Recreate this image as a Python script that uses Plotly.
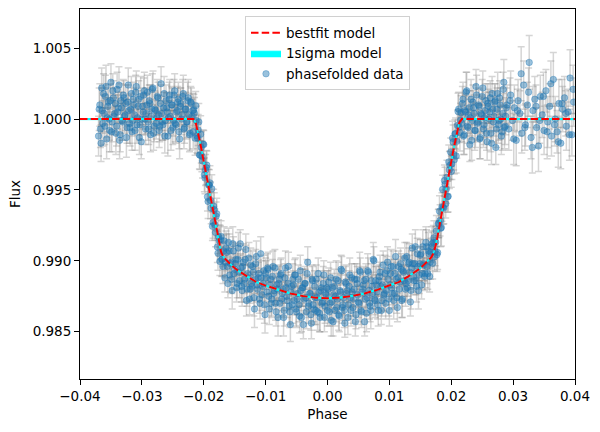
import plotly.graph_objects as go

# ---------------- data (read / estimated from the reference) ----------------
phase = [
    -0.0370, -0.0368, -0.0366, -0.0364, -0.0362, -0.0360, -0.0358, -0.0356, -0.0354, -0.0352,
    -0.0350, -0.0348, -0.0346, -0.0344, -0.0342, -0.0340, -0.0338, -0.0336, -0.0334, -0.0332,
    -0.0330, -0.0328, -0.0326, -0.0324, -0.0322, -0.0320, -0.0318, -0.0316, -0.0314, -0.0312,
    -0.0310, -0.0308, -0.0306, -0.0304, -0.0302, -0.0300, -0.0298, -0.0296, -0.0294, -0.0292,
    -0.0290, -0.0288, -0.0286, -0.0284, -0.0282, -0.0280, -0.0278, -0.0276, -0.0274, -0.0272,
    -0.0270, -0.0268, -0.0266, -0.0264, -0.0262, -0.0260, -0.0258, -0.0256, -0.0254, -0.0252,
    -0.0250, -0.0248, -0.0246, -0.0244, -0.0242, -0.0240, -0.0238, -0.0236, -0.0234, -0.0232,
    -0.0230, -0.0228, -0.0226, -0.0224, -0.0222, -0.0220, -0.0218,
    -0.0216, -0.0214, -0.0212, -0.0210, -0.0208, -0.0206, -0.0204, -0.0202, -0.0200, -0.0198,
    -0.0196, -0.0194, -0.0192, -0.0190, -0.0188, -0.0186, -0.0184, -0.0182, -0.0180, -0.0178,
    -0.0176, -0.0174, -0.0172, -0.0170,
    -0.0168, -0.0166, -0.0164, -0.0162, -0.0160, -0.0158, -0.0156, -0.0154, -0.0152, -0.0150,
    -0.0148, -0.0146, -0.0144, -0.0142, -0.0140, -0.0138, -0.0136, -0.0134, -0.0132, -0.0130,
    -0.0128, -0.0126, -0.0124, -0.0122, -0.0120, -0.0118, -0.0116, -0.0114, -0.0112, -0.0110,
    -0.0108, -0.0106, -0.0104, -0.0102, -0.0100, -0.0098, -0.0096, -0.0094, -0.0092, -0.0090,
    -0.0088, -0.0086, -0.0084, -0.0082, -0.0080, -0.0078, -0.0076, -0.0074, -0.0072, -0.0070,
    -0.0068, -0.0066, -0.0064, -0.0062, -0.0060, -0.0058, -0.0056, -0.0054, -0.0052, -0.0050,
    -0.0048, -0.0046, -0.0044, -0.0042, -0.0040, -0.0038, -0.0036, -0.0034, -0.0032, -0.0030,
    -0.0028, -0.0026, -0.0024, -0.0022, -0.0020, -0.0018, -0.0016, -0.0014, -0.0012, -0.0010,
    -0.0008, -0.0006, -0.0004, -0.0002,
    0.0000,
    0.0002, 0.0004, 0.0006, 0.0008, 0.0010, 0.0012, 0.0014, 0.0016, 0.0018, 0.0020,
    0.0022, 0.0024, 0.0026, 0.0028, 0.0030, 0.0032, 0.0034, 0.0036, 0.0038, 0.0040,
    0.0042, 0.0044, 0.0046, 0.0048, 0.0050, 0.0052, 0.0054, 0.0056, 0.0058, 0.0060,
    0.0062, 0.0064, 0.0066, 0.0068, 0.0070, 0.0072, 0.0074, 0.0076, 0.0078, 0.0080,
    0.0082, 0.0084, 0.0086, 0.0088, 0.0090, 0.0092, 0.0094, 0.0096, 0.0098, 0.0100,
    0.0102, 0.0104, 0.0106, 0.0108, 0.0110, 0.0112, 0.0114, 0.0116, 0.0118, 0.0120,
    0.0122, 0.0124, 0.0126, 0.0128, 0.0130, 0.0132, 0.0134, 0.0136, 0.0138, 0.0140,
    0.0142, 0.0144, 0.0146, 0.0148, 0.0150, 0.0152, 0.0154, 0.0156, 0.0158, 0.0160,
    0.0162, 0.0164, 0.0166, 0.0168,
    0.0170, 0.0172, 0.0174, 0.0176, 0.0178, 0.0180, 0.0182, 0.0184, 0.0186, 0.0188,
    0.0190, 0.0192, 0.0194, 0.0196, 0.0198, 0.0200, 0.0202, 0.0204, 0.0206, 0.0208,
    0.0210, 0.0212, 0.0214, 0.0216,
    0.0218, 0.0220, 0.0222, 0.0224, 0.0226, 0.0228, 0.0230, 0.0232, 0.0234, 0.0236,
    0.0238, 0.0240, 0.0242, 0.0244, 0.0246, 0.0248, 0.0250, 0.0252, 0.0254, 0.0256,
    0.0258, 0.0260, 0.0262, 0.0264, 0.0266, 0.0268, 0.0270, 0.0272, 0.0274, 0.0276,
    0.0278, 0.0280, 0.0282, 0.0284, 0.0286, 0.0288, 0.0290,
    0.0293, 0.0296, 0.0299, 0.0302, 0.0305, 0.0308, 0.0311, 0.0314, 0.0317, 0.0320,
    0.0323, 0.0326, 0.0329, 0.0332, 0.0335, 0.0338, 0.0341, 0.0344, 0.0347, 0.0350,
    0.0353, 0.0356, 0.0359, 0.0362, 0.0365, 0.0368, 0.0371, 0.0374, 0.0377, 0.0380,
    0.0383, 0.0386, 0.0389, 0.0392, 0.0395, 0.0398,
]

flux = [
    0.99880, 1.00100, 0.99830, 1.00060, 1.00180, 0.99950, 1.00230, 1.00010, 1.00120, 0.99920,
    1.00260, 0.99980, 1.00150, 1.00040, 0.99900, 1.00210, 1.00080, 0.99850, 1.00130, 0.99990,
    1.00170, 1.00020, 1.00110, 0.99940, 1.00240, 0.99970, 1.00070, 0.99910, 1.00140, 1.00030,
    1.00190, 0.99960, 1.00090, 0.99870, 1.00160, 1.00000, 1.00050, 1.00200, 0.99930, 1.00100,
    0.99980, 1.00130, 0.99890, 1.00070, 1.00220, 0.99950, 1.00060, 1.00010, 1.00150, 0.99920,
    1.00110, 1.00040, 0.99960, 1.00180, 0.99990, 1.00080, 0.99880, 1.00140, 1.00020, 1.00100,
    0.99940, 1.00170, 0.99970, 1.00050, 1.00120, 0.99910, 1.00090, 1.00000, 1.00160, 0.99930,
    1.00070, 0.99980, 1.00130, 1.00030, 0.99900, 1.00110, 1.00060,
    1.00065, 0.99865, 0.99990, 0.99865, 0.99980, 0.99745, 0.99800, 0.99705, 0.99820, 0.99584,
    0.99658, 0.99452, 0.99536, 0.99550, 0.99372, 0.99244, 0.99385, 0.99255, 0.99315, 0.99098,
    0.99170, 0.98996, 0.99172, 0.99012,
    0.99070, 0.98880, 0.99090, 0.98960, 0.99130, 0.98900, 0.98990, 0.98790, 0.99070, 0.98940,
    0.99010, 0.98840, 0.99090, 0.98860, 0.98950, 0.98790, 0.98990, 0.98870, 0.99080, 0.98800,
    0.98880, 0.98730, 0.98970, 0.98820, 0.98920, 0.98660, 0.98980, 0.98830, 0.98880, 0.98730,
    0.99050, 0.98760, 0.98840, 0.98690, 0.98910, 0.98780, 0.98940, 0.98660, 0.98870, 0.98730,
    0.98960, 0.98790, 0.98700, 0.98830, 0.98600, 0.98870, 0.98900, 0.98730, 0.98800, 0.98650,
    0.98950, 0.98750, 0.98840, 0.98680, 0.98550, 0.98820, 0.98870, 0.98720, 0.98900, 0.98640,
    0.98770, 0.98690, 0.98930, 0.98600, 0.98810, 0.98730, 0.98840, 0.98640, 0.98990, 0.98700,
    0.98770, 0.98560, 0.98860, 0.98660, 0.98740, 0.98870, 0.98640, 0.98780, 0.98600, 0.98810,
    0.98710, 0.98900, 0.98680, 0.98760,
    0.98650,
    0.98850, 0.98700, 0.98580, 0.98810, 0.98760, 0.98650, 0.98870, 0.98730, 0.98620, 0.98790,
    0.98940, 0.98670, 0.98740, 0.98560, 0.98840, 0.98790, 0.98690, 0.98900, 0.98650, 0.98780,
    0.98730, 0.98870, 0.98620, 0.98840, 0.98710, 0.98930, 0.98650, 0.98780, 0.98830, 0.98570,
    0.98870, 0.98740, 0.98920, 0.98700, 0.98650, 0.98820, 0.99010, 0.98730, 0.98860, 0.98780,
    0.98650, 0.98890, 0.98820, 0.98720, 0.98970, 0.98770, 0.98700, 0.98930, 0.98870, 0.98650,
    0.98910, 0.98810, 0.98960, 0.98770, 0.99030, 0.98740, 0.98880, 0.98800, 0.98980, 0.98720,
    0.98930, 0.98860, 0.98800, 0.99030, 0.98860, 0.98990, 0.98710, 0.98950, 0.98980, 0.98860,
    0.99100, 0.98820, 0.98960, 0.98900, 0.99040, 0.98830, 0.99100, 0.98970, 0.98910, 0.99100,
    0.98910, 0.99050, 0.98990, 0.99100,
    0.98982, 0.99162, 0.99066, 0.99210, 0.99058, 0.99265, 0.99285, 0.99235, 0.99504, 0.99372,
    0.99540, 0.99506, 0.99452, 0.99698, 0.99674, 0.99630, 0.99865, 0.99750, 0.99895, 0.99740,
    0.99955, 1.00070, 0.99905, 1.00045,
    1.00110, 0.99880, 1.00060, 1.00190, 0.99950, 1.00030, 0.99820, 1.00140, 0.99990, 1.00080,
    0.99920, 1.00230, 0.99970, 1.00100, 0.99860, 1.00040, 1.00160, 0.99930, 1.00010, 1.00130,
    0.99840, 1.00090, 1.00050, 0.99900, 1.00180, 0.99980, 1.00120, 0.99800, 1.00070, 0.99960,
    1.00150, 1.00000, 0.99910, 1.00210, 0.99940, 1.00020, 1.00100,
    0.99930, 1.00170, 0.99990, 1.00080, 0.99850, 1.00130, 1.00040, 0.99900, 1.00240, 0.99960,
    1.00100, 1.00400, 0.99870, 1.00060, 1.00140, 0.99940, 0.99810, 1.00160, 1.00030, 0.99920,
    1.00200, 0.99980, 1.00090, 0.99880, 1.00280, 1.00000, 0.99910, 1.00110, 0.99830, 1.00070,
    1.00150, 0.99950, 1.00050, 1.00290, 0.99890, 1.00120,
]

flux_err = [
    0.0014, 0.0015, 0.0013, 0.0016, 0.0014, 0.0013, 0.0015, 0.0014, 0.0012, 0.0015,
    0.0013, 0.0014, 0.0012, 0.0013, 0.0015, 0.0012, 0.0011, 0.0013, 0.0012, 0.0014,
    0.0011, 0.0012, 0.0013, 0.0011, 0.0012, 0.0014, 0.0011, 0.0013, 0.0012, 0.0011,
    0.0012, 0.0013, 0.0011, 0.0012, 0.0014, 0.0011, 0.0012, 0.0013, 0.0011, 0.0012,
    0.0013, 0.0011, 0.0012, 0.0014, 0.0012, 0.0011, 0.0013, 0.0012, 0.0011, 0.0012,
    0.0013, 0.0012, 0.0011, 0.0012, 0.0013, 0.0011, 0.0014, 0.0012, 0.0011, 0.0013,
    0.0012, 0.0011, 0.0013, 0.0012, 0.0011, 0.0012, 0.0013, 0.0011, 0.0012, 0.0014,
    0.0011, 0.0012, 0.0013, 0.0011, 0.0012, 0.0011, 0.0012,
    0.0011, 0.0012, 0.0010, 0.0011, 0.0013, 0.0010, 0.0011, 0.0012, 0.0010, 0.0011,
    0.0012, 0.0010, 0.0011, 0.0012, 0.0011, 0.0010, 0.0012, 0.0011, 0.0010, 0.0011,
    0.0012, 0.0010, 0.0011, 0.0012,
    0.0011, 0.0010, 0.0012, 0.0011, 0.0010, 0.0012, 0.0011, 0.0013, 0.0010, 0.0011,
    0.0012, 0.0010, 0.0011, 0.0012, 0.0010, 0.0011, 0.0013, 0.0010, 0.0011, 0.0012,
    0.0010, 0.0011, 0.0012, 0.0010, 0.0011, 0.0013, 0.0010, 0.0012, 0.0011, 0.0010,
    0.0012, 0.0011, 0.0010, 0.0013, 0.0011, 0.0010, 0.0012, 0.0011, 0.0010, 0.0012,
    0.0011, 0.0010, 0.0012, 0.0011, 0.0013, 0.0010, 0.0011, 0.0012, 0.0010, 0.0011,
    0.0012, 0.0010, 0.0011, 0.0013, 0.0012, 0.0010, 0.0011, 0.0010, 0.0012, 0.0011,
    0.0010, 0.0012, 0.0011, 0.0010, 0.0013, 0.0011, 0.0010, 0.0012, 0.0011, 0.0010,
    0.0012, 0.0011, 0.0010, 0.0011, 0.0012, 0.0010, 0.0013, 0.0011, 0.0010, 0.0012,
    0.0011, 0.0010, 0.0012, 0.0011,
    0.0011,
    0.0010, 0.0012, 0.0011, 0.0010, 0.0012, 0.0011, 0.0013, 0.0010, 0.0011, 0.0012,
    0.0010, 0.0011, 0.0012, 0.0010, 0.0013, 0.0011, 0.0010, 0.0012, 0.0011, 0.0010,
    0.0012, 0.0011, 0.0010, 0.0012, 0.0011, 0.0013, 0.0010, 0.0011, 0.0012, 0.0010,
    0.0011, 0.0012, 0.0010, 0.0011, 0.0013, 0.0010, 0.0012, 0.0011, 0.0010, 0.0012,
    0.0011, 0.0010, 0.0012, 0.0011, 0.0010, 0.0013, 0.0011, 0.0010, 0.0012, 0.0011,
    0.0010, 0.0012, 0.0011, 0.0010, 0.0012, 0.0011, 0.0013, 0.0010, 0.0011, 0.0012,
    0.0010, 0.0011, 0.0012, 0.0010, 0.0011, 0.0013, 0.0010, 0.0012, 0.0011, 0.0010,
    0.0012, 0.0011, 0.0010, 0.0013, 0.0011, 0.0010, 0.0012, 0.0011, 0.0010, 0.0012,
    0.0011, 0.0010, 0.0012, 0.0011,
    0.0011, 0.0012, 0.0010, 0.0011, 0.0012, 0.0010, 0.0011, 0.0013, 0.0010, 0.0011,
    0.0012, 0.0010, 0.0011, 0.0012, 0.0010, 0.0011, 0.0012, 0.0011, 0.0010, 0.0012,
    0.0011, 0.0012, 0.0013, 0.0012,
    0.0012, 0.0013, 0.0012, 0.0014, 0.0012, 0.0013, 0.0012, 0.0014, 0.0013, 0.0012,
    0.0014, 0.0012, 0.0013, 0.0012, 0.0014, 0.0013, 0.0012, 0.0013, 0.0014, 0.0012,
    0.0013, 0.0012, 0.0014, 0.0013, 0.0012, 0.0014, 0.0013, 0.0012, 0.0015, 0.0013,
    0.0012, 0.0014, 0.0013, 0.0012, 0.0015, 0.0013, 0.0014,
    0.0015, 0.0017, 0.0014, 0.0016, 0.0018, 0.0015, 0.0016, 0.0014, 0.0017, 0.0015,
    0.0016, 0.0019, 0.0015, 0.0017, 0.0016, 0.0014, 0.0018, 0.0015, 0.0016, 0.0017,
    0.0015, 0.0018, 0.0016, 0.0014, 0.0019, 0.0016, 0.0015, 0.0017, 0.0018, 0.0016,
    0.0015, 0.0017, 0.0016, 0.0020, 0.0015, 0.0017,
]

# second interleaved set of folded points
phase_2 = [
    -0.0369, -0.0367, -0.0365, -0.0363, -0.0361, -0.0359, -0.0357, -0.0355, -0.0353, -0.0351,
    -0.0349, -0.0347, -0.0345, -0.0343, -0.0341, -0.0339, -0.0337, -0.0335, -0.0333, -0.0331,
    -0.0329, -0.0327, -0.0325, -0.0323, -0.0321, -0.0319, -0.0317, -0.0315, -0.0313, -0.0311,
    -0.0309, -0.0307, -0.0305, -0.0303, -0.0301, -0.0299, -0.0297, -0.0295, -0.0293, -0.0291,
    -0.0289, -0.0287, -0.0285, -0.0283, -0.0281, -0.0279, -0.0277, -0.0275, -0.0273, -0.0271,
    -0.0269, -0.0267, -0.0265, -0.0263, -0.0261, -0.0259, -0.0257, -0.0255, -0.0253, -0.0251,
    -0.0249, -0.0247, -0.0245, -0.0243, -0.0241, -0.0239, -0.0237, -0.0235, -0.0233, -0.0231,
    -0.0229, -0.0227, -0.0225, -0.0223, -0.0221, -0.0219,
    -0.0217, -0.0215, -0.0213, -0.0211, -0.0209, -0.0207, -0.0205, -0.0203, -0.0201, -0.0199,
    -0.0197, -0.0195, -0.0193, -0.0191, -0.0189, -0.0187, -0.0185, -0.0183, -0.0181, -0.0179,
    -0.0177, -0.0175, -0.0173, -0.0171,
    -0.0169, -0.0167, -0.0165, -0.0163, -0.0161, -0.0159, -0.0157, -0.0155, -0.0153, -0.0151,
    -0.0149, -0.0147, -0.0145, -0.0143, -0.0141, -0.0139, -0.0137, -0.0135, -0.0133, -0.0131,
    -0.0129, -0.0127, -0.0125, -0.0123, -0.0121, -0.0119, -0.0117, -0.0115, -0.0113, -0.0111,
    -0.0109, -0.0107, -0.0105, -0.0103, -0.0101, -0.0099, -0.0097, -0.0095, -0.0093, -0.0091,
    -0.0089, -0.0087, -0.0085, -0.0083, -0.0081, -0.0079, -0.0077, -0.0075, -0.0073, -0.0071,
    -0.0069, -0.0067, -0.0065, -0.0063, -0.0061, -0.0059, -0.0057, -0.0055, -0.0053, -0.0051,
    -0.0049, -0.0047, -0.0045, -0.0043, -0.0041, -0.0039, -0.0037, -0.0035, -0.0033, -0.0031,
    -0.0029, -0.0027, -0.0025, -0.0023, -0.0021, -0.0019, -0.0017, -0.0015, -0.0013, -0.0011,
    -0.0009, -0.0007, -0.0005, -0.0003, -0.0001,
    0.0001, 0.0003, 0.0005, 0.0007, 0.0009, 0.0011, 0.0013, 0.0015, 0.0017, 0.0019,
    0.0021, 0.0023, 0.0025, 0.0027, 0.0029, 0.0031, 0.0033, 0.0035, 0.0037, 0.0039,
    0.0041, 0.0043, 0.0045, 0.0047, 0.0049, 0.0051, 0.0053, 0.0055, 0.0057, 0.0059,
    0.0061, 0.0063, 0.0065, 0.0067, 0.0069, 0.0071, 0.0073, 0.0075, 0.0077, 0.0079,
    0.0081, 0.0083, 0.0085, 0.0087, 0.0089, 0.0091, 0.0093, 0.0095, 0.0097, 0.0099,
    0.0101, 0.0103, 0.0105, 0.0107, 0.0109, 0.0111, 0.0113, 0.0115, 0.0117, 0.0119,
    0.0121, 0.0123, 0.0125, 0.0127, 0.0129, 0.0131, 0.0133, 0.0135, 0.0137, 0.0139,
    0.0141, 0.0143, 0.0145, 0.0147, 0.0149, 0.0151, 0.0153, 0.0155, 0.0157, 0.0159,
    0.0161, 0.0163, 0.0165, 0.0167, 0.0169,
    0.0171, 0.0173, 0.0175, 0.0177, 0.0179, 0.0181, 0.0183, 0.0185, 0.0187, 0.0189,
    0.0191, 0.0193, 0.0195, 0.0197, 0.0199, 0.0201, 0.0203, 0.0205, 0.0207, 0.0209,
    0.0211, 0.0213, 0.0215,
    0.0217, 0.0219, 0.0221, 0.0223, 0.0225, 0.0227, 0.0229, 0.0231, 0.0233, 0.0235,
    0.0237, 0.0239, 0.0241, 0.0243, 0.0245, 0.0247, 0.0249, 0.0251, 0.0253, 0.0255,
    0.0257, 0.0259, 0.0261, 0.0263, 0.0265, 0.0267, 0.0269, 0.0271, 0.0273, 0.0275,
    0.0277, 0.0279, 0.0281, 0.0283, 0.0285, 0.0287, 0.0289,
    0.0295, 0.0301, 0.0307, 0.0313, 0.0319, 0.0325, 0.0331, 0.0337, 0.0343, 0.0349,
    0.0355, 0.0361, 0.0367, 0.0373, 0.0379, 0.0385, 0.0391, 0.0397,
]

flux_2 = [
    1.00070, 0.99930, 1.00220, 0.99970, 1.00040, 1.00160, 0.99860, 1.00090, 1.00000, 1.00130,
    0.99910, 1.00200, 1.00020, 1.00110, 0.99950, 1.00050, 1.00240, 0.99890, 1.00080, 0.99980,
    1.00150, 1.00030, 0.99870, 1.00120, 1.00060, 0.99940, 1.00180, 0.99990, 1.00100, 0.99920,
    1.00230, 1.00010, 1.00140, 0.99960, 0.99840, 1.00090, 1.00170, 1.00000, 1.00040, 1.00190,
    0.99930, 1.00110, 1.00020, 1.00210, 0.99900, 1.00070, 0.99970, 1.00160, 1.00030, 0.99950,
    1.00250, 0.99980, 1.00080, 0.99880, 1.00130, 1.00050, 1.00010, 1.00170, 0.99920, 1.00100,
    0.99990, 1.00200, 0.99960, 1.00060, 1.00140, 0.99860, 1.00110, 1.00030, 1.00180, 0.99940,
    1.00070, 0.99980, 1.00150, 0.99890, 1.00120, 1.00020,
    0.99910, 1.00042, 1.00095, 0.99883, 0.99923, 0.99748, 0.99893, 0.99738, 0.99823, 0.99607,
    0.99641, 0.99675, 0.99419, 0.99533, 0.99426, 0.99508, 0.99270, 0.99360, 0.99200, 0.99332,
    0.99054, 0.99143, 0.99149, 0.99010,
    0.98960, 0.99140, 0.98990, 0.99060, 0.98840, 0.99070, 0.98980, 0.98870, 0.99120, 0.98910,
    0.98980, 0.98810, 0.99010, 0.98920, 0.99120, 0.98820, 0.98960, 0.98840, 0.99010, 0.98720,
    0.98910, 0.99020, 0.98800, 0.98840, 0.98960, 0.98740, 0.98870, 0.99030, 0.98800, 0.98910,
    0.98700, 0.98880, 0.98820, 0.98930, 0.98620, 0.98880, 0.98950, 0.98750, 0.98830, 0.98700,
    0.98890, 0.98770, 0.98950, 0.98640, 0.98800, 0.98840, 0.98700, 0.98910, 0.98770, 0.98600,
    0.98880, 0.98810, 0.98720, 0.98960, 0.98640, 0.98780, 0.98690, 0.98830, 0.98900, 0.98660,
    0.98730, 0.98870, 0.98610, 0.98790, 0.98810, 0.98550, 0.98840, 0.98740, 0.98910, 0.98680,
    0.98770, 0.98620, 0.98870, 0.98690, 0.98820, 0.98650, 0.98740, 0.98910, 0.98630, 0.98790,
    0.98700, 0.98840, 0.98600, 0.98770, 0.98810,
    0.98800, 0.98640, 0.98880, 0.98710, 0.98570, 0.98820, 0.98750, 0.98670, 0.98860, 0.98610,
    0.98780, 0.98930, 0.98690, 0.98650, 0.98850, 0.98770, 0.98600, 0.98820, 0.98740, 0.98880,
    0.98670, 0.98800, 0.98570, 0.98870, 0.98760, 0.98700, 0.98920, 0.98640, 0.98800, 0.98860,
    0.98730, 0.98630, 0.98930, 0.98790, 0.98680, 0.98860, 0.98770, 0.99000, 0.98720, 0.98830,
    0.98690, 0.98860, 0.98920, 0.98650, 0.98830, 0.98760, 0.98910, 0.98790, 0.98990, 0.98730,
    0.98830, 0.98960, 0.98770, 0.98720, 0.98910, 0.98870, 0.98670, 0.98960, 0.98850, 0.98940,
    0.98730, 0.98920, 0.99020, 0.98840, 0.98810, 0.98980, 0.98920, 0.98790, 0.99090, 0.98890,
    0.98980, 0.98860, 0.99050, 0.98790, 0.98980, 0.99050, 0.98910, 0.98980, 0.98890, 0.99130,
    0.98960, 0.99070, 0.98890, 0.99060, 0.99120,
    0.99130, 0.99029, 0.99133, 0.99044, 0.99262, 0.99350, 0.99230, 0.99380, 0.99378, 0.99566,
    0.99403, 0.99589, 0.99455, 0.99641, 0.99767, 0.99683, 0.99838, 0.99713, 0.99898, 0.99843,
    1.00053, 0.99945, 0.99992,
    0.99970, 1.00140, 0.99890, 1.00050, 1.00200, 0.99940, 1.00080, 1.00010, 0.99850, 1.00120,
    1.00040, 0.99920, 1.00170, 0.99980, 1.00090, 0.99870, 1.00030, 1.00220, 0.99960, 1.00060,
    0.99900, 1.00110, 1.00000, 1.00150, 0.99830, 1.00070, 1.00020, 1.00130, 0.99930, 1.00180,
    0.99990, 1.00100, 0.99880, 1.00040, 1.00260, 0.99950, 1.00080,
    1.00130, 0.99860, 1.00060, 1.00320, 0.99940, 1.00190, 0.99800, 1.00090, 0.99990, 1.00160,
    0.99910, 1.00250, 0.99960, 0.99840, 1.00110, 1.00040, 0.99890, 1.00210,
]

flux_err_2 = [
    0.0015, 0.0013, 0.0014, 0.0016, 0.0013, 0.0015, 0.0014, 0.0013, 0.0015, 0.0012,
    0.0014, 0.0012, 0.0013, 0.0011, 0.0014, 0.0012, 0.0013, 0.0012, 0.0011, 0.0013,
    0.0012, 0.0011, 0.0014, 0.0012, 0.0011, 0.0013, 0.0012, 0.0011, 0.0012, 0.0014,
    0.0011, 0.0012, 0.0013, 0.0011, 0.0012, 0.0013, 0.0012, 0.0011, 0.0014, 0.0012,
    0.0011, 0.0013, 0.0012, 0.0011, 0.0012, 0.0013, 0.0011, 0.0012, 0.0014, 0.0011,
    0.0012, 0.0013, 0.0011, 0.0012, 0.0011, 0.0013, 0.0012, 0.0011, 0.0014, 0.0012,
    0.0011, 0.0012, 0.0013, 0.0011, 0.0012, 0.0014, 0.0011, 0.0012, 0.0013, 0.0011,
    0.0012, 0.0011, 0.0013, 0.0012, 0.0011, 0.0012,
    0.0012, 0.0011, 0.0010, 0.0012, 0.0011, 0.0010, 0.0013, 0.0011, 0.0010, 0.0012,
    0.0011, 0.0010, 0.0012, 0.0011, 0.0013, 0.0010, 0.0011, 0.0012, 0.0010, 0.0011,
    0.0012, 0.0011, 0.0010, 0.0012,
    0.0012, 0.0010, 0.0011, 0.0013, 0.0010, 0.0012, 0.0011, 0.0010, 0.0012, 0.0011,
    0.0013, 0.0010, 0.0011, 0.0012, 0.0010, 0.0011, 0.0012, 0.0013, 0.0010, 0.0011,
    0.0012, 0.0011, 0.0010, 0.0012, 0.0011, 0.0013, 0.0010, 0.0011, 0.0012, 0.0010,
    0.0011, 0.0012, 0.0010, 0.0011, 0.0013, 0.0012, 0.0010, 0.0011, 0.0012, 0.0010,
    0.0012, 0.0011, 0.0013, 0.0010, 0.0011, 0.0012, 0.0010, 0.0011, 0.0012, 0.0013,
    0.0010, 0.0011, 0.0012, 0.0010, 0.0011, 0.0012, 0.0013, 0.0010, 0.0011, 0.0012,
    0.0011, 0.0010, 0.0012, 0.0011, 0.0013, 0.0010, 0.0012, 0.0011, 0.0010, 0.0012,
    0.0013, 0.0011, 0.0010, 0.0012, 0.0011, 0.0010, 0.0012, 0.0011, 0.0013, 0.0010,
    0.0011, 0.0012, 0.0010, 0.0011, 0.0012, 0.0013, 0.0010, 0.0011, 0.0012, 0.0010,
    0.0012, 0.0011, 0.0010, 0.0013, 0.0011, 0.0012, 0.0010, 0.0011, 0.0012, 0.0011,
    0.0010, 0.0012, 0.0011, 0.0013, 0.0010, 0.0011, 0.0012, 0.0010, 0.0011, 0.0012,
    0.0013, 0.0010, 0.0011, 0.0012, 0.0010, 0.0011, 0.0013, 0.0012, 0.0010, 0.0011,
    0.0012, 0.0011, 0.0010, 0.0012, 0.0013, 0.0010, 0.0011, 0.0012, 0.0010, 0.0011,
    0.0011, 0.0013, 0.0010, 0.0011, 0.0012, 0.0010, 0.0012, 0.0011, 0.0013, 0.0010,
    0.0012, 0.0010, 0.0011, 0.0012, 0.0011, 0.0013, 0.0010, 0.0011, 0.0012, 0.0010,
    0.0011, 0.0012, 0.0013, 0.0010, 0.0011, 0.0012, 0.0010, 0.0011, 0.0013, 0.0012,
    0.0010, 0.0011, 0.0012, 0.0010, 0.0011, 0.0012, 0.0013, 0.0011, 0.0010, 0.0012,
    0.0012, 0.0010, 0.0011, 0.0012, 0.0010, 0.0011, 0.0013, 0.0010, 0.0012, 0.0011,
    0.0010, 0.0012, 0.0011, 0.0013, 0.0010, 0.0011, 0.0012, 0.0010, 0.0011, 0.0012,
    0.0013, 0.0011, 0.0012,
    0.0013, 0.0012, 0.0014, 0.0012, 0.0013, 0.0015, 0.0012, 0.0013, 0.0014, 0.0012,
    0.0013, 0.0012, 0.0014, 0.0013, 0.0012, 0.0015, 0.0013, 0.0012, 0.0014, 0.0013,
    0.0012, 0.0014, 0.0013, 0.0012, 0.0015, 0.0013, 0.0014, 0.0012, 0.0013, 0.0015,
    0.0014, 0.0012, 0.0013, 0.0014, 0.0016, 0.0013, 0.0014,
    0.0016, 0.0018, 0.0015, 0.0019, 0.0016, 0.0017, 0.0018, 0.0015, 0.0016, 0.0017,
    0.0019, 0.0016, 0.0015, 0.0018, 0.0017, 0.0016, 0.0018, 0.0017,
]

model_phase = [
    -0.0400, -0.0217, -0.0213, -0.0209, -0.0205, -0.0200, -0.0195, -0.0190, -0.0185, -0.0180,
    -0.0176, -0.0172, -0.0168, -0.0162, -0.0155, -0.0145, -0.0130, -0.0115, -0.0100, -0.0080,
    -0.0060, -0.0040, -0.0020, 0.0000, 0.0020, 0.0040, 0.0060, 0.0080, 0.0100, 0.0115,
    0.0130, 0.0145, 0.0155, 0.0162, 0.0168, 0.0172, 0.0176, 0.0180, 0.0185, 0.0190,
    0.0195, 0.0200, 0.0205, 0.0209, 0.0213, 0.0217, 0.0400,
]
model_flux = [
    1.00000, 1.00000, 0.99975, 0.99905, 0.99815, 0.99700, 0.99585, 0.99470, 0.99350, 0.99225,
    0.99130, 0.99062, 0.99025, 0.98995, 0.98968, 0.98932, 0.98889, 0.98850, 0.98825, 0.98795,
    0.98770, 0.98752, 0.98740, 0.98735, 0.98740, 0.98752, 0.98770, 0.98795, 0.98825, 0.98850,
    0.98889, 0.98932, 0.98968, 0.98995, 0.99025, 0.99062, 0.99130, 0.99225, 0.99350, 0.99470,
    0.99585, 0.99700, 0.99815, 0.99905, 0.99975, 1.00000, 1.00000,
]
model_sigma = 0.00004

x_ticks = [-0.04, -0.03, -0.02, -0.01, 0.0, 0.01, 0.02, 0.03, 0.04]
x_ticklabels = ["\u22120.04", "\u22120.03", "\u22120.02", "\u22120.01", "0.00", "0.01", "0.02", "0.03", "0.04"]
y_ticks = [0.985, 0.990, 0.995, 1.000, 1.005]
y_ticklabels = ["0.985", "0.990", "0.995", "1.000", "1.005"]

assert len(phase) == len(flux) == len(flux_err), (len(phase), len(flux), len(flux_err))
assert len(phase_2) == len(flux_2) == len(flux_err_2), (len(phase_2), len(flux_2), len(flux_err_2))
assert len(model_phase) == len(model_flux), (len(model_phase), len(model_flux))

all_phase = phase + phase_2
all_flux = flux + flux_2
all_err = flux_err + flux_err_2

# ---------------- figure ----------------
FONT = "DejaVu Sans"
fig = go.Figure()

fig.add_trace(go.Scatter(
    x=all_phase, y=all_flux, mode="markers", name="phasefolded data", legendrank=3,
    marker=dict(size=6.5, color="rgba(31,119,180,0.45)",
                line=dict(width=0.8, color="rgba(31,119,180,0.45)")),
    error_y=dict(type="data", array=all_err, visible=True,
                 color="rgba(128,128,128,0.33)", thickness=1.5, width=3.5),
))

upper = [f + model_sigma for f in model_flux]
lower = [f - model_sigma for f in model_flux]
fig.add_trace(go.Scatter(
    x=model_phase + model_phase[::-1], y=upper + lower[::-1],
    mode="lines", fill="toself", fillcolor="cyan",
    line=dict(color="cyan", width=1), name="1sigma model", legendrank=2,
))

fig.add_trace(go.Scatter(
    x=model_phase, y=model_flux, mode="lines", name="bestfit model", legendrank=1,
    line=dict(color="red", width=2, dash="7.5px,3.2px"),
))

fig.update_layout(
    width=600, height=432,
    margin=dict(l=80, r=25, t=9, b=53),
    paper_bgcolor="white", plot_bgcolor="white",
    font=dict(family=FONT, size=13.5, color="black"),
    showlegend=True,
    legend=dict(
        x=0.5, xanchor="center", y=0.98, yanchor="top",
        bgcolor="rgba(255,255,255,0.8)", bordercolor="#d0d0d0", borderwidth=1,
        font=dict(family=FONT, size=13.5, color="black"),
        itemwidth=30, tracegroupgap=0,
    ),
)
fig.update_xaxes(
    range=[-0.04, 0.04], tickmode="array", tickvals=x_ticks, ticktext=x_ticklabels,
    showgrid=False, zeroline=False, showline=True, linecolor="black", linewidth=1, mirror=True,
    ticks="outside", ticklen=5, tickwidth=1, tickcolor="black",
    title=dict(text="Phase", standoff=6, font=dict(family=FONT, size=13.5)),
)
fig.update_yaxes(
    range=[0.98166, 1.00777], tickmode="array", tickvals=y_ticks, ticktext=y_ticklabels,
    showgrid=False, zeroline=False, showline=True, linecolor="black", linewidth=1, mirror=True,
    ticks="outside", ticklen=5, tickwidth=1, tickcolor="black",
    title=dict(text="Flux", standoff=8, font=dict(family=FONT, size=13.5)),
)

fig.write_html("out.html")
